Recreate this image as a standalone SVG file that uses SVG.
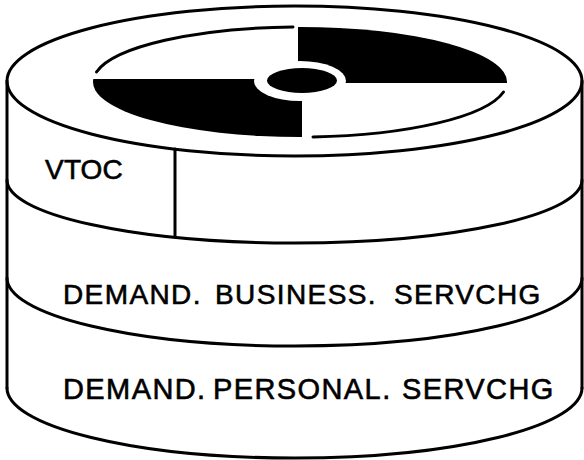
<svg xmlns="http://www.w3.org/2000/svg" width="584" height="460" viewBox="0 0 584 460">
  <style>
    .ink { fill: none; stroke: #000; stroke-width: 3; stroke-linecap: round; stroke-linejoin: round; }
    .solid { fill: #000; stroke: none; }
    .label { font-family: "Liberation Sans", Arial, sans-serif; fill: #000; stroke: #000; stroke-width: 0.6; }
  </style>
  <rect width="584" height="460" fill="#fff"/>

  <!-- disk pack: top surface with the recording face -->
  <g id="pack-top">
    <ellipse class="ink" cx="294.5" cy="81" rx="287.5" ry="75"/>
  </g>

  <g id="disk-face">
    <!-- dark quadrants -->
    <path class="solid" d="M298,27 A207,55 0 0 1 507,83 L298,83 Z"/>
    <path class="solid" d="M302,79 L93.3,79 A207,55 0 0 0 302,137 Z"/>
    <!-- rim of the face where it is light -->
    <path class="ink" stroke-width="3.5" d="M96.5,72 A207,55 0 0 1 293,27"/>
    <path class="ink" stroke-width="3.5" d="M313,136.9 A207,55 0 0 0 503.5,92"/>
    <!-- spindle hub with its clearance ring -->
    <ellipse cx="300" cy="81" rx="46" ry="20" fill="#fff"/>
    <ellipse class="solid" cx="302" cy="80.5" rx="35" ry="12.5"/>
  </g>

  <!-- cylinder walls -->
  <g id="pack-body">
    <path class="ink" d="M7,81 L7,388 M582,81 L582,388"/>
  </g>

  <g id="band-vtoc">
    <path class="ink" d="M7,180 A287.5,63 0 0 0 582,180"/>
    <path class="ink" d="M175,149 L175,237"/>
    <text class="label" x="45" y="179" font-size="28"><tspan>V</tspan><tspan x="64">TOC</tspan></text>
  </g>

  <g id="band-business">
    <path class="ink" d="M7,278 A287.5,68 0 0 0 582,278"/>
    <text class="label" y="304" font-size="28" letter-spacing="1.4"><tspan x="63">DEMAND.</tspan><tspan x="215">BUSINESS.</tspan><tspan x="394">SERVCHG</tspan></text>
  </g>

  <g id="band-personal">
    <path class="ink" d="M7,388 A287.5,70 0 0 0 582,388"/>
    <text class="label" y="399" font-size="29" letter-spacing="1.4"><tspan x="63">DEMAND.</tspan><tspan x="213">PERSONAL.</tspan><tspan x="402">SERVCHG</tspan></text>
  </g>
</svg>
